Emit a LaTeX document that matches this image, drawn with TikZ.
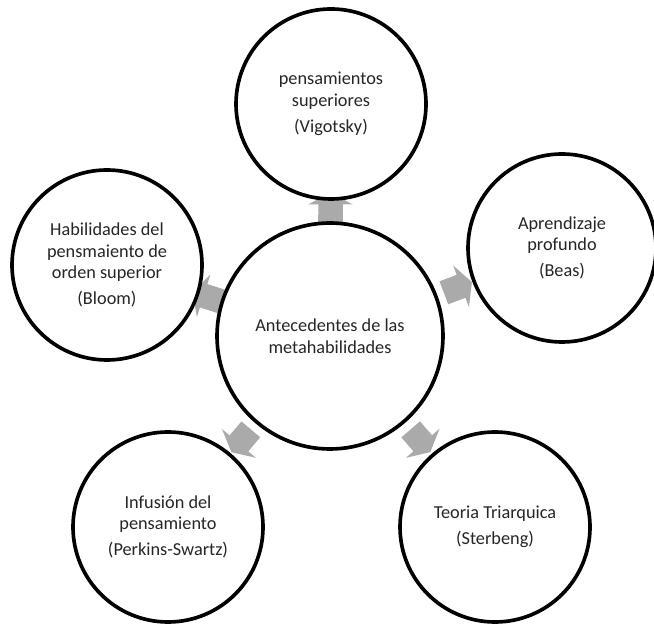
\documentclass[tikz,border=0pt]{standalone}
\usepackage{fontspec}
\setmainfont{Carlito}
\usetikzlibrary{shapes.arrows,backgrounds,positioning}
\usepackage{xcolor}
\definecolor{gris}{HTML}{AAAAAA}
\definecolor{texto}{HTML}{262626}

\begin{document}
\begin{tikzpicture}[
  circulo/.style={circle, draw, line width=2.6pt, fill=white, minimum size=4.75cm,
    align=center, text=texto, font=\fontsize{13}{15.5}\selectfont},
  flecha/.style={single arrow, fill=gris, draw=none, minimum height=0.75cm,
    inner xsep=0pt, inner ysep=0.3cm, single arrow head extend=0.25cm,
    single arrow tip angle=125, sloped, allow upside down}
]
  \useasboundingbox (0,0) rectangle (16.35,15.625);

  % centro y los cinco antecedentes
  \node[circulo, minimum size=5.65cm] (centro) at (8.25,7.225) {Antecedentes de las\\metahabilidades};
  \node[circulo] (vigotsky) at (8.275,13.025) {pensamientos\\superiores\\[3pt](Vigotsky)};
  \node[circulo] (bloom) at (2.675,9.0) {Habilidades del\\pensmaiento de\\orden superior\\[3pt](Bloom)};
  \node[circulo, minimum size=4.7cm] (beas) at (14.05,9.425) {Aprendizaje\\profundo\\[3pt](Beas)};
  \node[circulo] (perkins) at (4.2,2.45) {Infusión del\\pensamiento\\[3pt](Perkins-Swartz)};
  \node[circulo] (sterbeng) at (12.375,2.45) {Teoria Triarquica\\[3pt](Sterbeng)};

  % flechas grises por detras de los circulos
  \begin{scope}[on background layer]
    \path (centro) -- node[flecha] (f1) {} (vigotsky);
    \path (centro) -- node[flecha] (f2) {} (beas);
    \path (centro) -- node[flecha] (f3) {} (sterbeng);
    \path (centro) -- node[flecha] (f4) {} (perkins);
    \path (centro) -- node[flecha] (f5) {} (bloom);
  \end{scope}
\end{tikzpicture}
\end{document}
